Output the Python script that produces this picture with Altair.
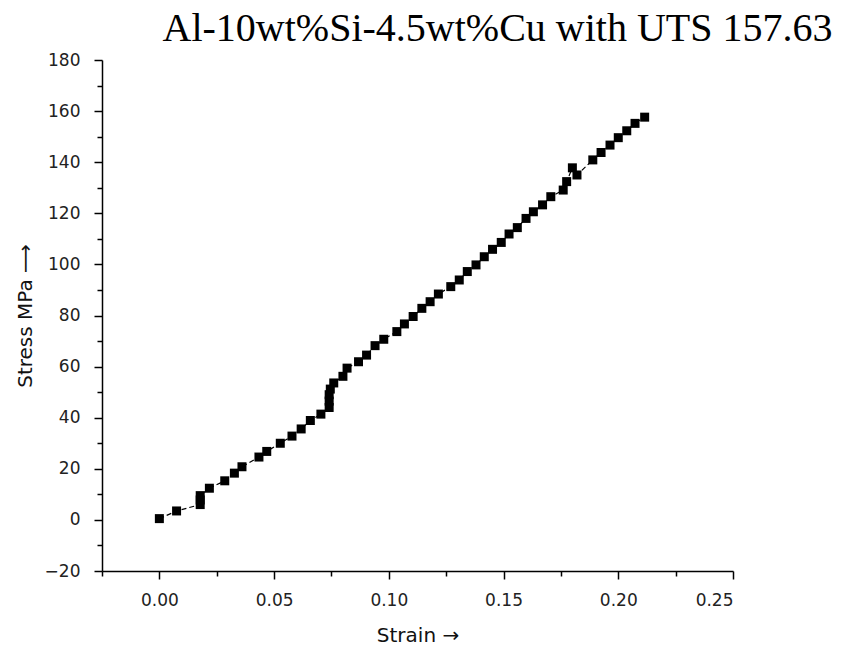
import altair as alt
import pandas as pd

strain = [0.0000, 0.0075, 0.0178, 0.0178, 0.0178, 0.0218, 0.0285, 0.0327, 0.0360,
          0.0434, 0.0468, 0.0527, 0.0578, 0.0618, 0.0658, 0.0704, 0.0740, 0.0740,
          0.0740, 0.0745, 0.0760, 0.0800, 0.0818, 0.0868, 0.0903, 0.0940, 0.0978,
          0.1035, 0.1068, 0.1106, 0.1144, 0.1180, 0.1216, 0.1270, 0.1307, 0.1342,
          0.1380, 0.1416, 0.1452, 0.1490, 0.1524, 0.1560, 0.1598, 0.1630, 0.1670,
          0.1706, 0.1760, 0.1775, 0.1800, 0.1820, 0.1889, 0.1925, 0.1964, 0.2000,
          0.2037, 0.2073, 0.2115]
stress = [0.5, 3.5, 6.0, 7.8, 9.5, 12.4, 15.3, 18.3, 20.8,
          24.6, 26.8, 30.0, 32.8, 35.6, 38.9, 41.4, 44.0, 46.5,
          49.0, 51.2, 53.6, 56.2, 59.4, 61.9, 64.5, 68.2, 70.7,
          73.7, 76.7, 79.6, 82.8, 85.4, 88.4, 91.3, 93.9, 97.2,
          99.8, 103.0, 105.9, 108.6, 111.9, 114.4, 118.0, 120.6, 123.3,
          126.5, 129.1, 132.4, 137.8, 135.0, 140.9, 143.8, 146.7, 149.6,
          152.3, 155.2, 157.63]

x_ticks = [-0.025, 0.0, 0.025, 0.05, 0.075, 0.10, 0.125, 0.15, 0.175, 0.20, 0.225, 0.25]
y_ticks = [-20, -10, 0, 10, 20, 30, 40, 50, 60, 70, 80, 90, 100, 110, 120,
           130, 140, 150, 160, 170, 180]

title_text = "Al-10wt%Si-4.5wt%Cu with UTS 157.63"

df = pd.DataFrame({"strain": strain, "stress": stress, "order": list(range(len(strain)))})

x_major = "abs(round(datum.value * 1000) % 50) === 0"
y_major = "abs(round(datum.value) % 20) === 0"

axis_common = dict(
    grid=False,
    domainColor="black",
    domainWidth=1.5,
    tickColor="black",
    tickWidth=1.5,
    labelColor="#222222",
    labelFont="DejaVu Sans",
    labelFontSize=17,
    titleFont="DejaVu Sans",
    titleFontSize=20,
    titleFontWeight="normal",
    titleColor="#111111",
)

x_enc = alt.X(
    "strain:Q",
    scale=alt.Scale(domain=[-0.025, 0.25], nice=False, zero=False),
    axis=alt.Axis(
        values=x_ticks,
        title="Strain →",
        labelExpr=f"({x_major}) ? format(datum.value, '.2f') : ''",
        tickSize={"condition": {"test": x_major, "value": 8}, "value": 5},
        labelPadding=13,
        titlePadding=17,
        **axis_common,
    ),
)
y_enc = alt.Y(
    "stress:Q",
    scale=alt.Scale(domain=[-20, 180], nice=False, zero=False),
    axis=alt.Axis(
        values=y_ticks,
        title="Stress MPa ⟶",
        labelExpr=f"({y_major}) ? format(datum.value, 'd') : ''",
        tickSize={"condition": {"test": y_major, "value": 8}, "value": 5},
        labelPadding=14,
        titlePadding=9,
        **axis_common,
    ),
)

base = alt.Chart(df)
line = base.mark_line(color="black", strokeWidth=1.2, strokeDash=[5, 3]).encode(
    x=x_enc, y=y_enc, order="order:Q"
)
pts = base.mark_square(size=81, color="black", opacity=1, filled=True).encode(
    x=x_enc, y=y_enc
)

chart = (
    alt.layer(line, pts)
    .properties(
        width=631,
        height=511,
        padding={"left": 102, "top": 60, "right": 108, "bottom": 81},
        autosize=alt.AutoSizeParams(type="none"),
        title=alt.TitleParams(
            title_text,
            font="Liberation Serif",
            fontSize=40,
            fontWeight="normal",
            color="black",
            anchor="middle",
            dx=80,
            offset=2,
        ),
        background="white",
    )
    .configure_view(stroke=None)
)

chart.save("out.html", embed_options={"renderer": "svg", "actions": False})
